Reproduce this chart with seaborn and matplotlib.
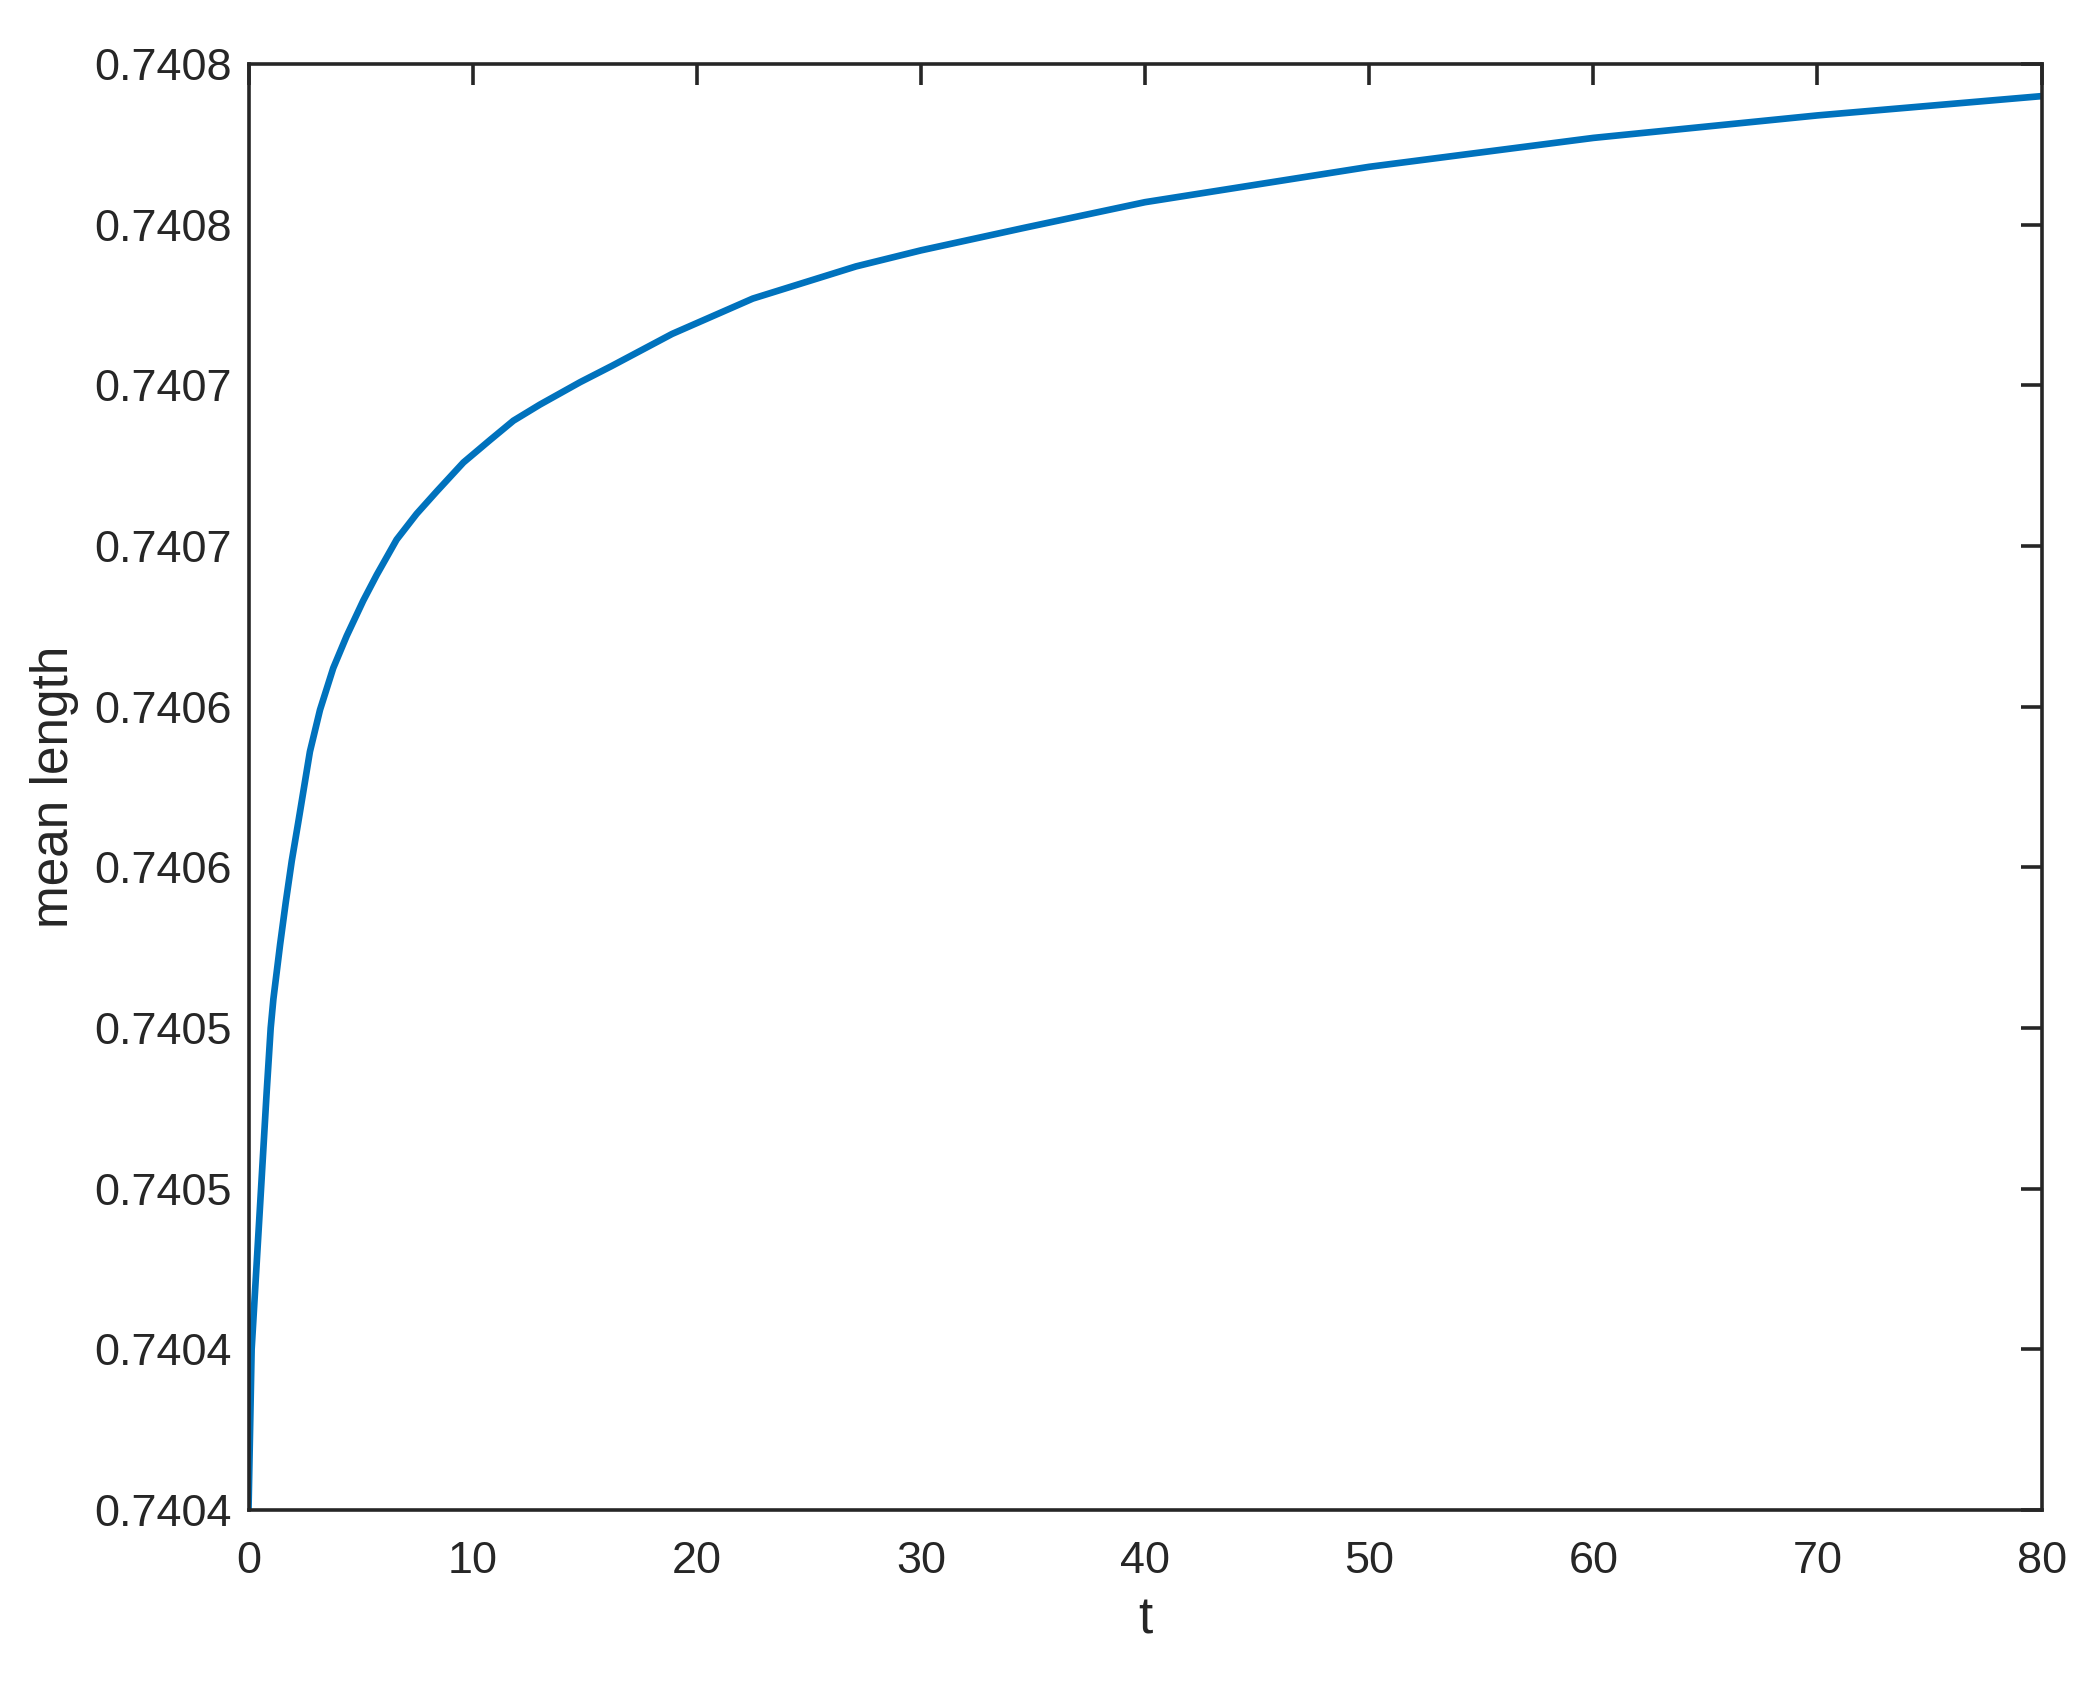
import matplotlib
matplotlib.use("Agg")
import matplotlib.pyplot as plt
import seaborn as sns
import pandas as pd
from matplotlib.ticker import FixedLocator, FixedFormatter

# ---- data ----
t_values = [0, 0.14, 0.56, 0.81, 0.99, 1.11, 1.41, 1.66, 1.93, 2.22, 2.74,
            3.19, 3.78, 4.38, 5.12, 5.72, 6.61, 7.5, 8.4, 9.59, 10.78, 11.82,
            13.0, 14.8, 16.2, 18.9, 22.5, 27.1, 30.0, 34.6, 40, 50, 60, 70, 80]
mean_length = [0.740400, 0.740450, 0.740500, 0.740530, 0.740550, 0.740559,
               0.740576, 0.740589, 0.740602, 0.740614, 0.740636, 0.740649,
               0.740662, 0.740672, 0.740683, 0.740691, 0.740702, 0.740710,
               0.740717, 0.740726, 0.740733, 0.740739, 0.740744, 0.740751,
               0.740756, 0.740766, 0.740777, 0.740787, 0.740792, 0.740799,
               0.740807, 0.740818, 0.740827, 0.740834, 0.740840]
x_ticks = [0, 10, 20, 30, 40, 50, 60, 70, 80]
y_ticks = [0.74040, 0.74045, 0.74050, 0.74055, 0.74060, 0.74065, 0.74070,
           0.74075, 0.74080, 0.74085]
y_tick_labels = ["0.7404", "0.7404", "0.7405", "0.7405", "0.7406", "0.7406",
                 "0.7407", "0.7407", "0.7408", "0.7408"]

df = pd.DataFrame({"t": t_values, "mean length": mean_length})

sns.set_style("white")
plt.rcParams['font.family'] = ['Liberation Sans', 'DejaVu Sans']

axis_color = "#262626"
fig = plt.figure(figsize=(2095 / 200, 1688 / 200), dpi=200)
ax = fig.add_axes([248.5 / 2095, 1 - 1510 / 1688, (2041.6 - 248.5) / 2095, (1510 - 64) / 1688])

sns.lineplot(data=df, x="t", y="mean length", ax=ax, color="#0072BD", linewidth=2.4)

ax.set_xlim(0, 80)
ax.set_ylim(0.74040, 0.74085)
ax.xaxis.set_major_locator(FixedLocator(x_ticks))
ax.set_xticklabels([str(v) for v in x_ticks])
ax.yaxis.set_major_locator(FixedLocator(y_ticks))
ax.yaxis.set_major_formatter(FixedFormatter(y_tick_labels))

ax.tick_params(axis="both", direction="in", length=7.5, width=1.3, colors=axis_color,
               labelsize=16.2, top=True, right=True)
ax.tick_params(axis="y", pad=6)
ax.tick_params(axis="x", pad=11)
for s in ax.spines.values():
    s.set_color(axis_color)
    s.set_linewidth(1.3)
    s.set_visible(True)

ax.set_xlabel("t", fontsize=18.5, color=axis_color, labelpad=5)
ax.set_ylabel("mean length", fontsize=18.5, color=axis_color, labelpad=5.5)

fig.savefig("out.png", dpi=200, facecolor="white")
